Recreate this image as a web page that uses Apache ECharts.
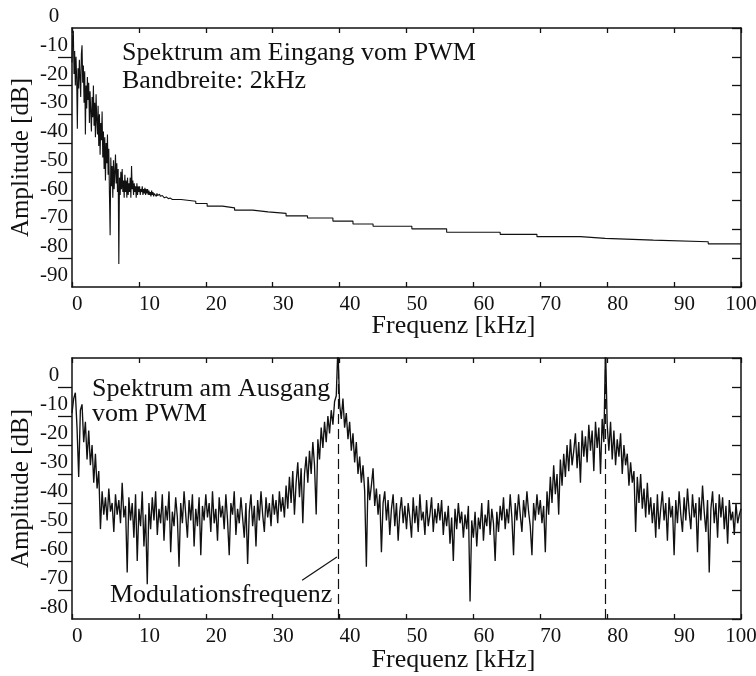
<!DOCTYPE html>
<html><head><meta charset="utf-8">
<script src="https://cdn.jsdelivr.net/npm/echarts@6/dist/echarts.min.js"></script>
<style>html,body{margin:0;padding:0;background:#fff}#c{width:756px;height:676px}</style>
</head><body><div id="c"></div>
<script>
const FONT = "'Liberation Serif','Times New Roman','DejaVu Serif',serif";

// ---- tick values / labels ----
const xTickValues = [0,10,20,30,40,50,60,70,80,90,100];
const yLabelsTop = [0,-10,-20,-30,-40,-50,-60,-70,-80,-90];
const yLabelsBottom = [10,0,-10,-20,-30,-40,-50,-60,-70,-80]; // 10 at the top edge is not labelled

// ---- top plot: spectrum at PWM input (0.1 kHz bins up to 14.9 kHz) ----
const inFreqStep = 0.1;
const inNoise = [
 -12,-3,-1,-16,-8,-20,-10,-18,-35,-14,
 -21,-11,-17,-24,-9,-6,-19,-13,-26,-15,
 -37,-20,-28,-17,-25,-19,-33,-22,-29,-36,
 -24,-31,-20,-34,-26,-38,-23,-32,-37,-27,
 -41,-30,-44,-33,-39,-29,-45,-36,-49,-38,
 -53,-40,-47,-37,-51,-42,-58,-72,-45,-55,
 -48,-59,-46,-56,-50,-44,-54,-47,-57,-49,
 -82,-52,-58,-50,-56,-49,-57,-53,-59,-51,
 -57,-53,-59,-52,-58,-54,-57,-52,-59,-48,
 -56,-53,-58,-54,-57,-55,-59,-54,-58,-55,
 -57,-55,-58,-56,-57,-55,-58,-56,-57.5,-55.5,
 -58,-56,-57.5,-56,-58,-56.5,-58,-57,-58.5,-56.5,
 -58,-57,-58.5,-57.5,-58,-57,-58.5,-57.5,-58.2,-57.6,
 -58.6,-57.8,-58.5,-58,-59,-58.2,-58.8,-58.3,-59,-58.5,
 -59,-58.7,-59.2,-58.8,-59.3,-59,-59.4,-59.1,-59.4,-59.3
];
// staircase part (value held from each frequency to the next)
const inStairFreq = [15,16.3,18.5,20.2,22.5,24.3,27,29.3,32,35.2,39,42,45,50.8,56,64,69.5,76,79.7,86.9,95.1,100];
const inStairAmp  = [-59.6,-60.2,-61.0,-61.9,-62.5,-63.3,-63.9,-64.4,-65.3,-66.0,-67.1,-68.1,-68.9,-69.8,-71.0,-71.7,-72.5,-73.1,-73.7,-74.3,-75.0,-75.0];

// ---- bottom plot: spectrum at PWM output (0.25 kHz bins, 0..100 kHz) ----
const outFreqStep = 0.25;
const outAmp = [
 -9,-4,-2,-14,-31,-8,-6,-19,-12,-25,-15,-27,-20,-33,-23,-35,-29,-49,-36,-44,
 -38,-46,-35,-43,-40,-50,-37,-44,-39,-47,-33,-45,-41,-64,-38,-46,-40,-52,-37,-60,
 -42,-48,-36,-55,-44,-68,-40,-49,-38,-46,-36,-51,-42,-47,-37,-53,-41,-46,-36,-57,
 -43,-48,-38,-45,-62,-40,-47,-36,-44,-52,-39,-46,-37,-55,-42,-48,-38,-58,-41,-46,
 -37,-45,-40,-50,-36,-47,-42,-53,-38,-45,-41,-49,-37,-46,-58,-40,-44,-36,-51,-42,
 -47,-38,-45,-52,-40,-61,-43,-37,-48,-41,-55,-39,-46,-36,-44,-50,-38,-45,-40,-48,
 -37,-44,-39,-47,-36,-43,-38,-45,-34,-42,-31,-40,-29,-44,-33,-26,-38,-28,-47,-30,
 -24,-33,-22,-30,-19,-27,-44,-18,-25,-14,-21,-12,-19,-10,-16,-8,-13,-5,-3,14,
 -6,-11,-4,-14,-9,-18,-12,-22,-16,-26,-19,-30,-24,-33,-27,-36,-62,-31,-39,-34,
 -28,-41,-35,-44,-37,-57,-40,-36,-46,-39,-51,-42,-37,-48,-40,-53,-43,-38,-47,-41,
 -49,-40,-45,-52,-38,-47,-41,-50,-37,-46,-43,-51,-39,-48,-44,-38,-50,-42,-47,-40,
 -46,-39,-51,-43,-48,-41,-54,-45,-60,-42,-49,-40,-47,-43,-52,-44,-49,-41,-74,-46,
 -52,-43,-55,-45,-49,-40,-53,-44,-48,-39,-51,-42,-47,-60,-43,-50,-41,-46,-38,-49,
 -42,-47,-37,-45,-58,-40,-46,-37,-44,-50,-39,-45,-36,-43,-48,-58,-40,-46,-37,-44,
 -39,-47,-41,-57,-36,-44,-31,-40,-27,-37,-30,-44,-25,-34,-23,-31,-20,-29,-18,-27,
 -22,-16,-28,-19,-33,-15,-24,-17,-26,-13,-22,-15,-29,-12,-21,-14,-30,-11,-19,14,
 -13,-22,-12,-25,-15,-27,-18,-24,-16,-30,-20,-27,-23,-34,-26,-33,-29,-50,-31,-40,
 -30,-42,-35,-45,-33,-44,-38,-47,-40,-52,-37,-49,-42,-36,-46,-40,-53,-38,-45,-41,
 -58,-39,-47,-36,-44,-50,-38,-46,-35,-43,-49,-37,-45,-40,-57,-38,-46,-34,-43,-50,
 -39,-64,-42,-36,-47,-40,-52,-37,-45,-38,-49,-41,-54,-39,-46,-43,-51,-40,-47,-44,-42
];
const modFreqs = [39.75, 79.75];
const leaderFrom = [34.4, -66.6];
const leaderTo = [39.6, -58.6];

// ---- build series data ----
const topData = inNoise.map((v,i)=>[+(i*inFreqStep).toFixed(2), v])
  .concat(inStairFreq.map((f,i)=>[f, inStairAmp[i]]));
const bottomData = outAmp.map((v,i)=>[+(i*outFreqStep).toFixed(2), v]);

const INK = '#111';
const axisLineStyle = {color: INK, width: 1.5};
const tickLine = {color:INK, width:1.3};

function xAxes(grid, gap){
  return [
    {gridIndex:grid, type:'value', min:0, max:100, interval:10, position:'bottom',
     axisLine:{onZero:false, lineStyle:axisLineStyle},
     axisTick:{inside:true, length:5, lineStyle:tickLine},
     axisLabel:{margin:7, align:'left', alignMaxLabel:'center', fontFamily:FONT, fontSize:21, color:INK},
     splitLine:{show:false},
     name:'Frequenz [kHz]', nameLocation:'middle', nameGap:gap, nameMoveOverlap:false,
     nameTextStyle:{fontFamily:FONT, fontSize:26, color:INK, padding:[0,0,0,94]}},
    {gridIndex:grid, type:'value', min:0, max:100, interval:10, position:'top',
     axisLine:{onZero:false, lineStyle:axisLineStyle},
     axisTick:{inside:true, length:5, lineStyle:tickLine},
     axisLabel:{show:false}, splitLine:{show:false}}
  ];
}
// value axis (scale for the series, hidden), right frame axis, and a
// category axis on the left carrying the labels and the outward ticks
function yAxes(grid, min, max, labels, unlabeled){
  const cats = labels.slice().reverse().map(String); // bottom -> top
  const last = cats.length - 1;
  return [
    {gridIndex:grid, type:'value', min:min, max:max, interval:10, show:false},
    {gridIndex:grid, type:'value', min:min, max:max, interval:10, position:'right',
     axisLine:{onZero:false, lineStyle:axisLineStyle},
     axisTick:{inside:true, length:9, lineStyle:tickLine},
     axisLabel:{show:false}, splitLine:{show:false}},
    {gridIndex:grid, type:'category', data:cats, boundaryGap:false, position:'left',
     axisLine:{onZero:false, lineStyle:axisLineStyle},
     axisTick:{inside:false, length:14, lineStyle:tickLine,
       interval:(idx)=> idx!==0 && idx!==last},
     axisLabel:{margin:18, align:'center', verticalAlign:'bottom', padding:[0,0,1,0],
       fontFamily:FONT, fontSize:21, color:INK,
       interval:(idx, val)=> unlabeled.indexOf(val) < 0},
     splitLine:{show:false},
     name:'Amplitude [dB]', nameLocation:'middle', nameGap:38, nameRotate:90, nameMoveOverlap:false,
     nameTextStyle:{fontFamily:FONT, fontSize:25, color:INK}}
  ];
}

const chart = echarts.init(document.getElementById('c'), null, {renderer:'canvas'});
chart.setOption({
  animation:false,
  backgroundColor:'#fff',
  grid:[
    {left:72, top:28, width:669, height:259, containLabel:false, outerBoundsMode:'none'},
    {left:72, top:358, width:669, height:261, containLabel:false, outerBoundsMode:'none'}
  ],
  xAxis:[...xAxes(0,26), ...xAxes(1,28)],
  yAxis:[...yAxes(0,-90,0,yLabelsTop,[]), ...yAxes(1,-80,10,yLabelsBottom,['10'])],
  series:[
    {type:'line', xAxisIndex:0, yAxisIndex:0, data:topData, step:'end', showSymbol:false, symbol:'none',
     clip:true, lineStyle:{color:'#111', width:1.1}},
    {type:'line', xAxisIndex:2, yAxisIndex:3, data:bottomData, showSymbol:false, symbol:'none',
     clip:true, lineStyle:{color:'#111', width:1.35},
     markLine:{silent:true, symbol:'none', label:{show:false}, animation:false,
       lineStyle:{type:[10,5], color:INK, width:1.2},
       data:[
         {xAxis:modFreqs[0]},
         {xAxis:modFreqs[1]},
         [{coord:leaderFrom, lineStyle:{type:'solid', width:1.2, color:INK}},
          {coord:leaderTo, lineStyle:{type:'solid', width:1.2, color:INK}}]
       ]}}
  ],
  graphic:[
    {type:'text', x:122, y:53, style:{text:'Spektrum am Eingang vom PWM', font:'26px '+FONT, fill:INK, verticalAlign:'middle'}},
    {type:'text', x:122, y:81, style:{text:'Bandbreite: 2kHz', font:'26px '+FONT, fill:INK, verticalAlign:'middle'}},
    {type:'text', x:92, y:389, style:{text:'Spektrum am Ausgang', font:'26px '+FONT, fill:INK, verticalAlign:'middle'}},
    {type:'text', x:92, y:414, style:{text:'vom PWM', font:'26px '+FONT, fill:INK, verticalAlign:'middle'}},
    {type:'text', x:110, y:595, style:{text:'Modulationsfrequenz', font:'26px '+FONT, fill:INK, verticalAlign:'middle'}}
  ]
});
</script></body></html>
